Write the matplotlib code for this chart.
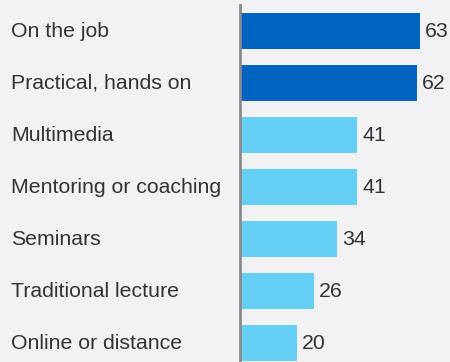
import matplotlib.pyplot as plt
import matplotlib.transforms as mtransforms

plt.rcParams['font.family'] = ['Liberation Sans', 'DejaVu Sans']

categories = ["On the job", "Practical, hands on", "Multimedia",
              "Mentoring or coaching", "Seminars", "Traditional lecture",
              "Online or distance"]
values = [63, 62, 41, 41, 34, 26, 20]
highlight = [True, True, False, False, False, False, False]

bg = '#f2f2f4'
dark = '#0063bf'
light = '#66cff5'
text_col = '#333333'

fig = plt.figure(figsize=(4.5, 3.62), dpi=100, facecolor=bg)
ax = fig.add_axes([240 / 450, 0, 210 / 450, 357 / 362])
ax.set_facecolor(bg)

ypos = list(range(len(categories)))
colors = [dark if h else light for h in highlight]
bars = ax.barh(ypos, values, height=0.71, color=colors, zorder=2)

ax.set_xlim(0, 73.5)
ax.set_ylim(6.365, -0.5)

for s in ['top', 'right', 'bottom']:
    ax.spines[s].set_visible(False)
ax.spines['left'].set_color('#8a8a8a')
ax.spines['left'].set_linewidth(2)
ax.set_xticks([])
ax.set_yticks([])

# category labels at the left edge of the figure
trans = mtransforms.blended_transform_factory(fig.transFigure, ax.transData)
for y, name in zip(ypos, categories):
    ax.text(11 / 450, y, name, transform=trans, ha='left', va='center',
            fontsize=15.3, color=text_col, clip_on=False)

# value labels just past each bar
for y, v in zip(ypos, values):
    ax.annotate(str(v), xy=(v, y), xytext=(3.6, 0), textcoords='offset points',
                ha='left', va='center', fontsize=15.3, color=text_col,
                annotation_clip=False)

fig.savefig('out.png', dpi=100, facecolor=bg)
